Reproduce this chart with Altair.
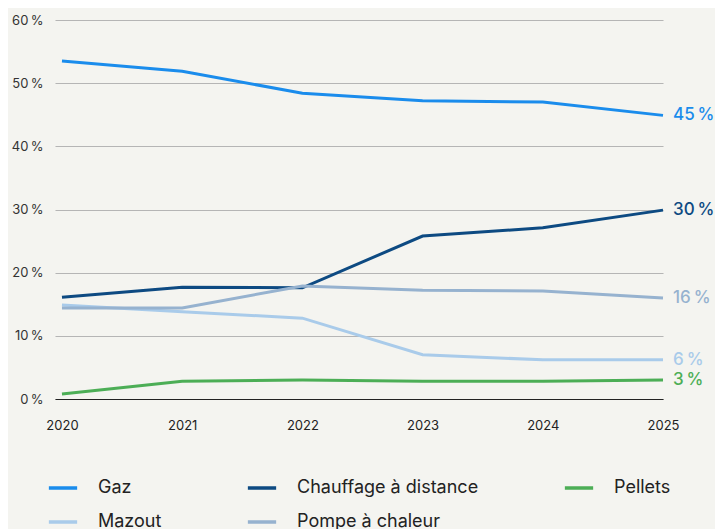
import altair as alt
import pandas as pd

years = [2020, 2021, 2022, 2023, 2024, 2025]
series = ["Gaz", "Mazout", "Chauffage à distance", "Pompe à chaleur", "Pellets"]
gaz = [53.5, 51.9, 48.4, 47.2, 47.0, 44.9]
mazout = [14.9, 13.8, 12.8, 7.0, 6.2, 6.2]
chauffage = [16.1, 17.7, 17.6, 25.8, 27.1, 29.9]
pompe = [14.4, 14.4, 17.9, 17.2, 17.1, 16.0]
pellets = [0.8, 2.8, 3.0, 2.8, 2.8, 3.0]
end_labels = ["45\u2009%", "6\u2009%", "30\u2009%", "16\u2009%", "3\u2009%"]
colors = ["#1a8cec", "#a9cbea", "#0d4a82", "#96b2cf", "#4cae56"]

values = [gaz, mazout, chauffage, pompe, pellets]
rows = []
for s, vals in zip(series, values):
    for y, v in zip(years, vals):
        rows.append({"Jahr": y, "Serie": s, "Wert": v})
df = pd.DataFrame(rows)
lab = pd.DataFrame({"Jahr": [years[-1]] * 5, "Serie": series,
                    "Wert": [v[-1] for v in values], "Label": end_labels})

FONT = "Inter"
color = alt.Color("Serie:N", sort=series,
                  scale=alt.Scale(domain=series, range=colors),
                  legend=alt.Legend(title=None, orient="none", legendX=-8, legendY=452,
                                    columns=3, columnPadding=78, rowPadding=9,
                                    symbolType="stroke", symbolSize=800, symbolStrokeWidth=3.5,
                                    labelFontSize=18, labelColor="#222", labelFont=FONT,
                                    labelOffset=19, labelLimit=400))

x = alt.X("Jahr:Q", scale=alt.Scale(domain=[2019.942, 2025], nice=False, zero=False),
          axis=alt.Axis(title=None, values=years, format="d", grid=False, domain=True,
                        domainColor="#222", domainWidth=1.2, ticks=False,
                        labelFontSize=13, labelColor="#222", labelFont=FONT,
                        labelPadding=20, labelFlush=False))
y = alt.Y("Wert:Q", scale=alt.Scale(domain=[0, 60], nice=False),
          axis=alt.Axis(title=None, values=[0, 10, 20, 30, 40, 50, 60],
                        labelExpr="datum.value + '\u2009%'", domain=False, ticks=False,
                        gridColor="#b5b5b5", gridWidth=1, labelPadding=12,
                        labelFontSize=13, labelColor="#333", labelFont=FONT))

lines = alt.Chart(df).mark_line(strokeWidth=3, interpolate="linear").encode(
    x=x, y=y, color=color, detail="Serie:N")

texts = alt.Chart(lab).mark_text(align="left", baseline="middle", dx=10, fontSize=17,
                                 fontWeight=500, font=FONT).encode(
    x="Jahr:Q", y="Wert:Q", text="Label:N",
    color=alt.Color("Serie:N", scale=alt.Scale(domain=series, range=colors), legend=None))

chart = alt.layer(lines, texts).properties(
    width=608, height=379, background="#f4f4f0",
    padding={"left": 47, "top": 12, "right": 52, "bottom": 140},
    autosize=alt.AutoSizeParams(type="none")
).configure_view(stroke=None)

chart.save("out.html", embed_options={"renderer": "svg", "actions": False})
